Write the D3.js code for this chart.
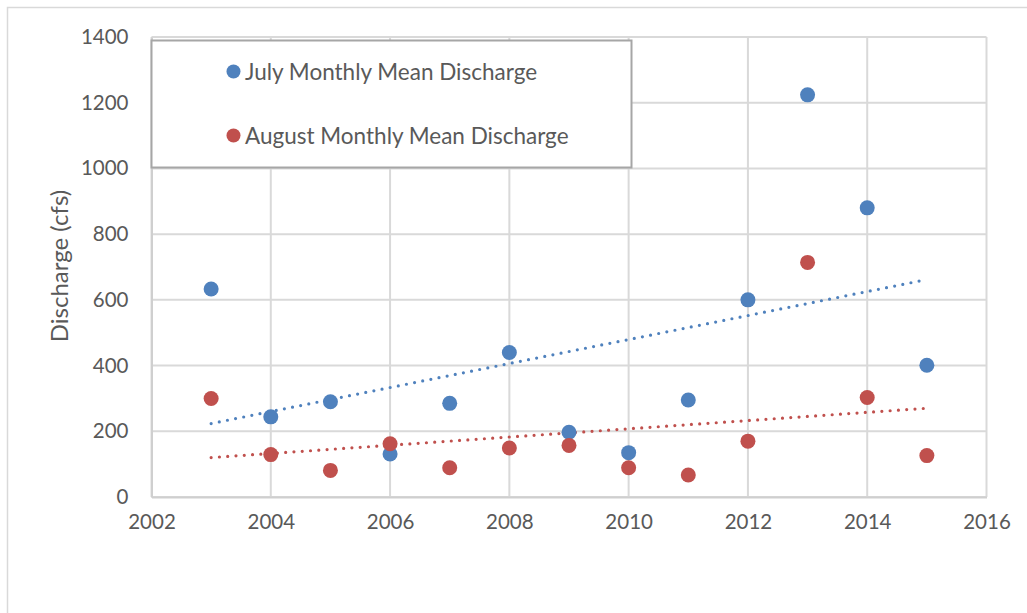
<!DOCTYPE html>
<html>
<head>
<meta charset="utf-8">
<script src="https://cdn.jsdelivr.net/npm/d3@7"></script>
<style>
  html, body { margin: 0; padding: 0; background: #fff; }
  svg { display: block; font-family: Lato, "Open Sans", sans-serif; }
</style>
</head>
<body>
<svg id="chart" width="1027" height="613"></svg>
<script>
// Monthly mean discharge (cfs) by year
const years = [2003, 2004, 2005, 2006, 2007, 2008, 2009, 2010, 2011, 2012, 2013, 2014, 2015];
const julyDischarge = [633, 244, 290, 131, 285, 440, 197, 135, 295, 600, 1224, 880, 401];
const augustDischarge = [300, 129, 81, 162, 89, 149, 157, 89, 67, 170, 714, 303, 126];
const xTicks = [2002, 2004, 2006, 2008, 2010, 2012, 2014, 2016];
const yTicks = [0, 200, 400, 600, 800, 1000, 1200, 1400];
const seriesNames = ["July Monthly Mean Discharge", "August Monthly Mean Discharge"];
const seriesColors = ["#4f81bd", "#c0504d"];

const svg = d3.select("#chart");
const textColor = "#595959";

// chart frame
svg.append("rect")
  .attr("x", 7.5).attr("y", 7.5)
  .attr("width", 1100).attr("height", 700)
  .attr("fill", "none").attr("stroke", "#d9d9d9").attr("stroke-width", 1.5);

const x = d3.scaleLinear().domain([2002, 2016]).range([151.5, 986.5]);
const y = d3.scaleLinear().domain([0, 1400]).range([497, 37]);

// gridlines
const grid = svg.append("g");
grid.selectAll("line.h").data(yTicks).join("line")
  .attr("x1", x(2002)).attr("x2", x(2016))
  .attr("y1", d => y(d)).attr("y2", d => y(d))
  .attr("stroke", "#d9d9d9").attr("stroke-width", 2);
grid.selectAll("line.v").data(xTicks).join("line")
  .attr("x1", d => x(d)).attr("x2", d => x(d))
  .attr("y1", y(0)).attr("y2", y(1400))
  .attr("stroke", "#d9d9d9").attr("stroke-width", 2);

// axes
const yAxis = svg.append("g")
  .attr("transform", `translate(${x(2002)},0)`)
  .call(d3.axisLeft(y).tickValues(yTicks).tickSize(0).tickPadding(23).tickFormat(d3.format("d")));
const xAxis = svg.append("g")
  .attr("transform", `translate(0,${y(0)})`)
  .call(d3.axisBottom(x).tickValues(xTicks).tickSize(0).tickPadding(17).tickFormat(d3.format("d")));
[yAxis, xAxis].forEach(g => {
  g.select(".domain").attr("stroke", "#cfcfcf").attr("stroke-width", 2);
  g.selectAll("text").attr("fill", textColor).attr("font-size", 20.5).attr("font-family", "Lato, sans-serif");
});

// axis title
svg.append("text")
  .attr("transform", "translate(58,266) rotate(-90)")
  .attr("text-anchor", "middle").attr("dominant-baseline", "central")
  .attr("fill", textColor).attr("font-size", 24)
  .text("Discharge (cfs)");

// linear least-squares trendlines
function fit(xs, ys) {
  const mx = d3.mean(xs), my = d3.mean(ys);
  const slope = d3.sum(xs, (v, i) => (v - mx) * (ys[i] - my)) / d3.sum(xs, v => (v - mx) ** 2);
  return v => my + slope * (v - mx);
}
const series = [julyDischarge, augustDischarge];
const first = d3.min(years), last = d3.max(years);
series.forEach((vals, i) => {
  const f = fit(years, vals);
  svg.append("line")
    .attr("x1", x(first)).attr("y1", y(f(first)))
    .attr("x2", x(last)).attr("y2", y(f(last)))
    .attr("stroke", seriesColors[i]).attr("stroke-width", 3.2)
    .attr("stroke-linecap", "round").attr("stroke-dasharray", "0 8.3");
});

// markers
series.forEach((vals, i) => {
  svg.append("g").selectAll("circle").data(years).join("circle")
    .attr("cx", d => x(d)).attr("cy", (d, k) => y(vals[k]))
    .attr("r", 7.5).attr("fill", seriesColors[i]);
});

// legend
const legend = svg.append("g");
legend.append("rect")
  .attr("x", 151.5).attr("y", 40.5).attr("width", 480).attr("height", 127)
  .attr("fill", "#fff").attr("stroke", "#a6a6a6").attr("stroke-width", 2);
const legendY = [71.5, 135.5];
seriesNames.forEach((name, i) => {
  legend.append("circle").attr("cx", 233.5).attr("cy", legendY[i]).attr("r", 7).attr("fill", seriesColors[i]);
  legend.append("text").attr("x", 245).attr("y", legendY[i])
    .attr("dominant-baseline", "central").attr("fill", textColor).attr("font-size", 22.5)
    .text(name);
});
</script>
</body>
</html>
